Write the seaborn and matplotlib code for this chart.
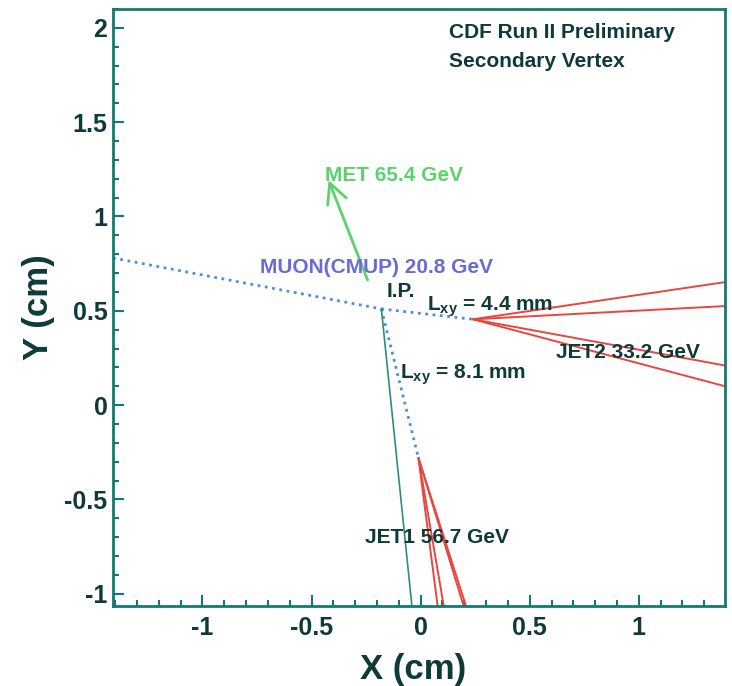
import numpy as np
import pandas as pd
import seaborn as sns
import matplotlib
matplotlib.use('Agg')
import matplotlib.pyplot as plt
from matplotlib.ticker import MultipleLocator

sns.set_theme(style='ticks')
plt.rcParams['font.family'] = ['Liberation Sans', 'DejaVu Sans']
plt.rcParams['mathtext.fontset'] = 'custom'
plt.rcParams['mathtext.rm'] = 'Liberation Sans:bold'
plt.rcParams['mathtext.bf'] = 'Liberation Sans:bold'

# event geometry (cm)
ip = [-0.18, 0.51]
sv_jet1 = [-0.01, -0.28]
sv_jet2 = [0.24, 0.455]
muon_start = [-1.41, 0.78]
track_end = [-0.04, -1.065]
met_tail = [-0.243, 0.663]
met_tip = [-0.422, 1.193]
jet2_end_x = [1.395, 1.395, 1.395, 1.395]
jet2_end_y = [0.652, 0.525, 0.21, 0.10]
jet1_end_x = [0.078, 0.106, 0.197, 0.208]
jet1_end_y = [-1.065, -1.065, -1.065, -1.065]

teal = '#137a73'
dark = '#0f3a3a'
red = '#e8463f'
blue = '#4a8fe0'

fig = plt.figure(figsize=(7.32, 6.86), dpi=100)
ax = fig.add_axes([113/732, 80/686, 612/732, 597/686])

def seg(p, q, **kw):
    df = pd.DataFrame({'x': [p[0], q[0]], 'y': [p[1], q[1]]})
    sns.lineplot(data=df, x='x', y='y', ax=ax, sort=False, estimator=None, **kw)

# muon track and decay lengths (dotted)
seg(muon_start, ip, color=blue, linestyle=':', linewidth=2)
seg(ip, sv_jet2, color=blue, linestyle=':', linewidth=2)
seg(ip, sv_jet1, color=blue, linestyle=':', linewidth=2)
# other track
seg(ip, track_end, color='#2a8f80', linewidth=1.2)
# jets
for x, y in zip(jet2_end_x, jet2_end_y):
    seg(sv_jet2, [x, y], color=red, linewidth=1.4)
for x, y in zip(jet1_end_x, jet1_end_y):
    seg(sv_jet1, [x, y], color=red, linewidth=1.4)

# missing Et arrow
ax.annotate('', xy=met_tip, xytext=met_tail,
            arrowprops=dict(arrowstyle='->', color='#5ad46a', lw=2,
                            mutation_scale=36, shrinkA=0, shrinkB=0))

tk = dict(fontsize=15, fontweight='bold', va='center', ha='left')
ax.text(-0.44, 1.215, 'MET 65.4 GeV', color='#5ad46a', **tk)
ax.text(-0.738, 0.732, 'MUON(CMUP) 20.8 GeV', color='#6a6ad8', **tk)
ax.text(-0.155, 0.6, 'I.P.', color=dark, **tk)
ax.text(0.03, 0.52, r'L$_{\mathrm{xy}}$ = 4.4 mm', color=dark, **tk)
ax.text(-0.096, 0.16, r'L$_{\mathrm{xy}}$ = 8.1 mm', color=dark, **tk)
ax.text(0.62, 0.28, 'JET2 33.2 GeV', color=dark, **tk)
ax.text(-0.257, -0.70, 'JET1 56.7 GeV', color=dark, **tk)
ax.text(0.128, 1.978, 'CDF Run II Preliminary', color=dark, **tk)
ax.text(0.128, 1.824, 'Secondary Vertex', color=dark, **tk)

ax.set_xlim(-1.41, 1.395)
ax.set_ylim(-1.065, 2.1)
ax.xaxis.set_major_locator(MultipleLocator(0.5))
ax.xaxis.set_minor_locator(MultipleLocator(0.1))
ax.yaxis.set_major_locator(MultipleLocator(0.5))
ax.yaxis.set_minor_locator(MultipleLocator(0.1))
ax.set_xticks([-1, -0.5, 0, 0.5, 1])
ax.set_xticklabels(['-1', '-0.5', '0', '0.5', '1'])
ax.set_yticks([-1, -0.5, 0, 0.5, 1, 1.5, 2])
ax.set_yticklabels(['-1', '-0.5', '0', '0.5', '1', '1.5', '2'])
ax.tick_params(which='both', direction='in', color=teal, width=1.5,
               labelsize=18, labelcolor=dark)
ax.tick_params(which='major', length=8)
ax.tick_params(which='minor', length=4)
ax.tick_params(axis='x', pad=7)
ax.tick_params(axis='y', pad=4)
for lab in ax.get_xticklabels() + ax.get_yticklabels():
    lab.set_fontweight('bold')
for s in ax.spines.values():
    s.set_color(teal)
    s.set_linewidth(2)

ax.set_xlabel('X (cm)', fontsize=25, fontweight='bold', color=dark)
ax.set_ylabel('Y (cm)', fontsize=25, fontweight='bold', color=dark)
ax.xaxis.set_label_coords(0.49, -0.078)
ax.yaxis.set_label_coords(-0.095, 0.5)

fig.savefig('out.png', dpi=100)
